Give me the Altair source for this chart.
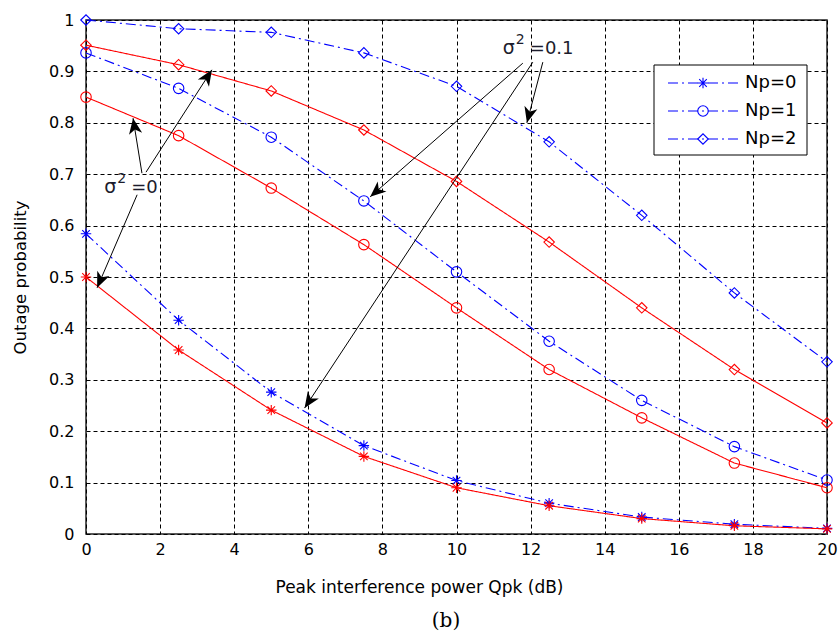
import math
import altair as alt
import pandas as pd

# ---------------- data ----------------
x_vals = [0, 2.5, 5, 7.5, 10, 12.5, 15, 17.5, 20]
np0_s01 = [0.584, 0.416, 0.276, 0.172, 0.104, 0.06, 0.033, 0.019, 0.011]
np0_s0 = [0.50, 0.358, 0.241, 0.151, 0.09, 0.055, 0.03, 0.016, 0.01]
np1_s01 = [0.936, 0.867, 0.772, 0.648, 0.51, 0.375, 0.26, 0.17, 0.105]
np1_s0 = [0.85, 0.775, 0.673, 0.563, 0.44, 0.32, 0.226, 0.138, 0.09]
np2_s01 = [1.0, 0.983, 0.976, 0.936, 0.871, 0.763, 0.62, 0.469, 0.335]
np2_s0 = [0.951, 0.913, 0.862, 0.786, 0.686, 0.568, 0.44, 0.32, 0.216]

series_names = ["Np=0 s01", "Np=0 s0", "Np=1 s01", "Np=1 s0", "Np=2 s01", "Np=2 s0"]
series_vals = [np0_s01, np0_s0, np1_s01, np1_s0, np2_s01, np2_s0]

legend_labels = ["Np=0", "Np=1", "Np=2"]

# annotation arrows (data coordinates): start -> tip
arrow_x1 = [1.51, 1.62, 1.38, 11.79, 12.06, 12.33]
arrow_y1 = [0.702, 0.704, 0.660, 0.916, 0.918, 0.918]
arrow_x2 = [1.27, 3.40, 0.30, 7.67, 5.90, 11.90]
arrow_y2 = [0.809, 0.903, 0.479, 0.656, 0.245, 0.800]

ann_x = [0.49, 11.25]
ann_y = [0.663, 0.934]
ann_rest = ["=0", "=0.1"]

# ---------------- style ----------------
W, H = 741, 514
BLUE = "#0000ff"
RED = "#ff0000"
ASTER = "M-1,0L1,0M0,-1L0,1M-0.72,-0.72L0.72,0.72M-0.72,0.72L0.72,-0.72"
ARROWHEAD = "M0,0L-0.42,1L0,0.72L0.42,1Z"
FONT = "DejaVu Sans"

rows = []
for name, vals in zip(series_names, series_vals):
    for xv, yv in zip(x_vals, vals):
        rows.append({"x": xv, "y": yv, "s": name})
df = pd.DataFrame(rows)

color_scale = alt.Scale(domain=series_names, range=[BLUE, RED, BLUE, RED, BLUE, RED])
dash_scale = alt.Scale(domain=series_names,
                       range=[[10, 4, 2, 4], [1, 0], [10, 4, 2, 4], [1, 0], [10, 4, 2, 4], [1, 0]])
shape_scale = alt.Scale(domain=series_names,
                        range=[ASTER, ASTER, "circle", "circle", "diamond", "diamond"])
size_scale = alt.Scale(domain=series_names, range=[110, 110, 150, 150, 180, 180])

xscale = alt.Scale(domain=[0, 20], nice=False, zero=False)
yscale = alt.Scale(domain=[0, 1], nice=False, zero=False)

xaxis = alt.Axis(values=list(range(0, 21, 2)), format="~g", grid=True, ticks=False, domain=False,
                 labelFlush=False, labelOverlap=False, labelPadding=7,
                 title="Peak interference power Qpk (dB)", titleX=333, titleY=58,
                 titleAlign="center", titleBaseline="alphabetic", titleFontSize=17)
yaxis = alt.Axis(values=[i / 10 for i in range(11)], format="~g", grid=True, ticks=False, domain=False,
                 labelFlush=False, labelOverlap=False, labelPadding=12,
                 title="Outage probability", titleX=-66, titleY=257, titleAngle=270,
                 titleAlign="center", titleBaseline="middle", titleFontSize=16.5)

base = alt.Chart(df)
lines = base.mark_line(strokeWidth=1.1).encode(
    x=alt.X("x:Q", scale=xscale, axis=xaxis),
    y=alt.Y("y:Q", scale=yscale, axis=yaxis),
    color=alt.Color("s:N", scale=color_scale, legend=None),
    strokeDash=alt.StrokeDash("s:N", scale=dash_scale, legend=None),
    detail="s:N",
)
points = base.mark_point(filled=False, strokeWidth=1.1, opacity=1).encode(
    x="x:Q", y="y:Q",
    color=alt.Color("s:N", scale=color_scale, legend=None),
    shape=alt.Shape("s:N", scale=shape_scale, legend=None),
    size=alt.Size("s:N", scale=size_scale, legend=None),
)

# arrows
adf = pd.DataFrame({"x1": arrow_x1, "y1": arrow_y1, "x2": arrow_x2, "y2": arrow_y2})
px_per_x = W / 20.0
px_per_y = H / 1.0
angles = []
for a, b, c, d in zip(arrow_x1, arrow_y1, arrow_x2, arrow_y2):
    dxp = (c - a) * px_per_x
    dyp = -(d - b) * px_per_y
    angles.append(math.degrees(math.atan2(dxp, -dyp)) % 360)
adf["ang"] = angles

arrow_lines = alt.Chart(adf).mark_rule(color="black", strokeWidth=1).encode(
    x="x1:Q", y="y1:Q", x2="x2:Q", y2="y2:Q")
arrow_heads = alt.Chart(adf).mark_point(shape=ARROWHEAD, filled=True, color="black",
                                        size=1000, opacity=1, strokeWidth=0).encode(
    x="x2:Q", y="y2:Q", angle=alt.Angle("ang:Q", scale=None))

# annotation text
tdf = pd.DataFrame({"x": ann_x, "y": ann_y, "rest": ann_rest})
tcol = "#1c1c2c"
sig = alt.Chart(tdf).mark_text(text="σ", font=FONT, fontSize=19, align="left",
                               baseline="alphabetic", color=tcol).encode(x="x:Q", y="y:Q")
sup = alt.Chart(tdf).mark_text(text="2", font=FONT, fontSize=14, align="left", dx=13, dy=-10,
                               baseline="alphabetic", color=tcol).encode(x="x:Q", y="y:Q")
rest = alt.Chart(tdf).mark_text(font=FONT, fontSize=18, align="left", dx=27,
                                baseline="alphabetic", color=tcol).encode(x="x:Q", y="y:Q", text="rest:N")

# legend (data coordinates)
leg_y = [1 - 63 / H, 1 - 91 / H, 1 - 119 / H]
ldf = pd.DataFrame({"label": legend_labels, "y": leg_y,
                    "s": ["Np=0 s01", "Np=1 s01", "Np=2 s01"],
                    "xa": [582 / px_per_x] * 3, "xb": [652 / px_per_x] * 3,
                    "xm": [617 / px_per_x] * 3, "xt": [659 / px_per_x] * 3})
box = alt.Chart(pd.DataFrame({"x1": [568 / px_per_x], "x2": [721 / px_per_x],
                              "y1": [1 - 45 / H], "y2": [1 - 135 / H]})).mark_rect(
    fill="white", stroke="black", strokeWidth=1).encode(x="x1:Q", x2="x2:Q", y="y1:Q", y2="y2:Q")
leg_lines = alt.Chart(ldf).mark_rule(color=BLUE, strokeWidth=1.1, strokeDash=[10, 4, 2, 4]).encode(
    x="xa:Q", x2="xb:Q", y="y:Q")
leg_pts = alt.Chart(ldf).mark_point(filled=False, strokeWidth=1.1, opacity=1).encode(
    x="xm:Q", y="y:Q",
    color=alt.Color("s:N", scale=color_scale, legend=None),
    shape=alt.Shape("s:N", scale=shape_scale, legend=None),
    size=alt.Size("s:N", scale=size_scale, legend=None))
leg_text = alt.Chart(ldf).mark_text(font=FONT, fontSize=18, align="left", baseline="middle",
                                    color="black").encode(x="xt:Q", y="y:Q", text="label:N")

caption = alt.Chart(pd.DataFrame({"t": ["(b)"]})).mark_text(
    font="DejaVu Serif", fontSize=20, align="center", baseline="middle", color="black").encode(
    x=alt.value(360), y=alt.value(601), text="t:N")

chart = alt.layer(
    lines, points, arrow_lines, arrow_heads, sig, sup, rest,
    box, leg_lines, leg_pts, leg_text, caption
).properties(
    width=W, height=H,
    padding={"left": 86, "top": 20, "right": 12, "bottom": 107},
    autosize=alt.AutoSizeParams(type="none"),
    background="white",
).configure_view(
    stroke="#222222", strokeWidth=1.5
).configure_axis(
    gridColor="black", gridDash=[4, 3], gridOpacity=1, gridWidth=1,
    labelFont=FONT, labelFontSize=16, labelColor="black",
    titleFont=FONT, titleColor="black", titleFontWeight="normal",
)

chart.save("out.html", embed_options={"renderer": "svg", "actions": False})
